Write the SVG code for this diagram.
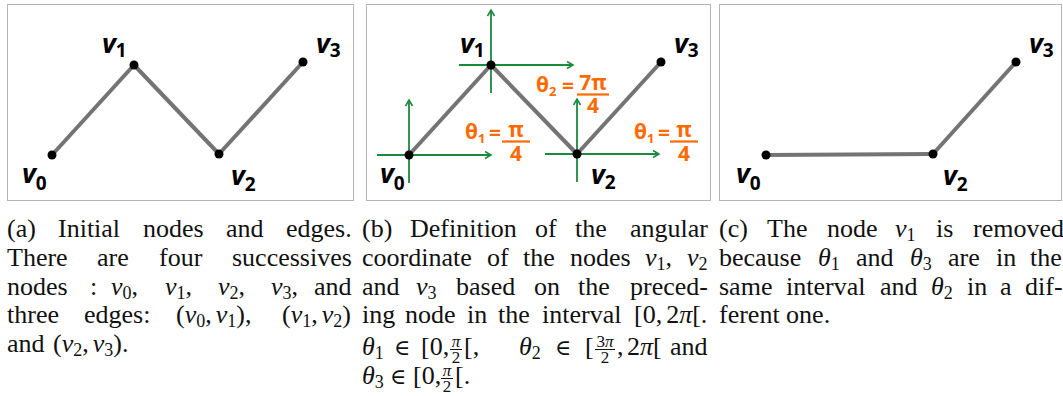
<svg xmlns="http://www.w3.org/2000/svg" width="1063" height="396" viewBox="0 0 1063 396">
<defs>
<style>
.frame{fill:#fff;stroke:#b4b4b4;stroke-width:1}
.edge{stroke:#747474;stroke-width:4;stroke-linecap:round}
.dot{fill:#000}
.lbl{font-family:"Open Sans","Noto Sans",sans-serif;font-weight:700;font-style:italic;font-size:27px;fill:#000}
.lsub{font-style:normal;font-size:19px}
.axis{stroke:#1b8a3b;stroke-width:1.8;fill:none;marker-end:url(#arr)}
.ang{font-family:"Open Sans","Noto Sans",sans-serif;font-weight:700;font-size:21px;fill:#ff6a00}
.asub{font-size:13px}
.bar{stroke:#ff6a00;stroke-width:2.2}
.cap{font-family:"Liberation Serif","Times New Roman",serif;font-size:26px;fill:#111}
.mi{font-style:italic}
.sub{font-size:18px}
.el{font-family:"DejaVu Serif",serif;font-size:22px}
.fr{font-family:"Liberation Serif","Times New Roman",serif;font-size:17px;fill:#111;text-anchor:middle}
.fbar{stroke:#111;stroke-width:1}
</style>
<marker id="arr" markerWidth="10" markerHeight="10" refX="7" refY="4" orient="auto" markerUnits="userSpaceOnUse"><path d="M1,0.5 L7,4 L1,7.5" fill="none" stroke="#1b8a3b" stroke-width="1.6"/></marker>
</defs>
<rect width="1063" height="396" fill="#fff"/>
<g id="frames">
<rect class="frame" x="7.5" y="4.5" width="346" height="196"/>
<rect class="frame" x="366.5" y="4.5" width="344" height="196"/>
<rect class="frame" x="719.5" y="4.5" width="342" height="196"/>
</g>
<g id="axes">
<line class="axis" x1="377" y1="155" x2="491" y2="155"/>
<line class="axis" x1="409" y1="183" x2="409" y2="100"/>
<line class="axis" x1="459" y1="65" x2="573" y2="65"/>
<line class="axis" x1="491" y1="93" x2="491" y2="10"/>
<line class="axis" x1="545" y1="154" x2="659" y2="154"/>
<line class="axis" x1="577" y1="182" x2="577" y2="99"/>
</g>
<g id="connectors">
<line class="edge" x1="52" y1="155" x2="134" y2="65"/>
<line class="edge" x1="134" y1="65" x2="219" y2="154"/>
<line class="edge" x1="219" y1="154" x2="303" y2="62"/>
<line class="edge" x1="409" y1="155" x2="491" y2="65"/>
<line class="edge" x1="491" y1="65" x2="577" y2="154"/>
<line class="edge" x1="577" y1="154" x2="661" y2="62"/>
<line class="edge" x1="766" y1="155" x2="933" y2="154"/>
<line class="edge" x1="933" y1="154" x2="1016" y2="62"/>
</g>
<g id="a-v0"><circle class="dot" cx="52" cy="155" r="4.5"/><text class="lbl" x="22" y="183">v<tspan class="lsub" dy="7">0</tspan></text></g>
<g id="a-v1"><circle class="dot" cx="134" cy="65" r="4.5"/><text class="lbl" x="102" y="53">v<tspan class="lsub" dy="4">1</tspan></text></g>
<g id="a-v2"><circle class="dot" cx="219" cy="154" r="4.5"/><text class="lbl" x="231" y="185">v<tspan class="lsub" dy="6">2</tspan></text></g>
<g id="a-v3"><circle class="dot" cx="303" cy="62" r="4.5"/><text class="lbl" x="316" y="53">v<tspan class="lsub" dy="4">3</tspan></text></g>
<g id="b-v0"><circle class="dot" cx="409" cy="155" r="4.5"/><text class="lbl" x="380" y="183">v<tspan class="lsub" dy="7">0</tspan></text></g>
<g id="b-v1"><circle class="dot" cx="491" cy="65" r="4.5"/><text class="lbl" x="460" y="53">v<tspan class="lsub" dy="4">1</tspan></text></g>
<g id="b-v2"><circle class="dot" cx="577" cy="154" r="4.5"/><text class="lbl" x="591" y="184">v<tspan class="lsub" dy="5">2</tspan></text></g>
<g id="b-v3"><circle class="dot" cx="661" cy="62" r="4.5"/><text class="lbl" x="674" y="53">v<tspan class="lsub" dy="4">3</tspan></text></g>
<g id="c-v0"><circle class="dot" cx="766" cy="155" r="4.5"/><text class="lbl" x="736" y="183">v<tspan class="lsub" dy="7">0</tspan></text></g>
<g id="c-v2"><circle class="dot" cx="933" cy="154" r="4.5"/><text class="lbl" x="943" y="185">v<tspan class="lsub" dy="6">2</tspan></text></g>
<g id="c-v3"><circle class="dot" cx="1016" cy="62" r="4.5"/><text class="lbl" x="1029" y="53">v<tspan class="lsub" dy="4">3</tspan></text></g>
<g id="angles">
<text class="ang" x="465" y="139">θ<tspan class="asub" dy="4">1</tspan></text>
<text class="ang" x="489" y="140">=</text>
<text class="ang" x="516" y="137" text-anchor="middle">π</text>
<line class="bar" x1="502" y1="141.5" x2="530" y2="141.5"/>
<text class="ang" x="516" y="161" text-anchor="middle">4</text>
<text class="ang" x="536" y="92">θ<tspan class="asub" dy="4">2</tspan></text>
<text class="ang" x="562" y="93">=</text>
<text class="ang" x="593" y="90" text-anchor="middle">7π</text>
<line class="bar" x1="577" y1="94.5" x2="609" y2="94.5"/>
<text class="ang" x="593" y="113" text-anchor="middle">4</text>
<text class="ang" x="634" y="139">θ<tspan class="asub" dy="4">1</tspan></text>
<text class="ang" x="658" y="140">=</text>
<text class="ang" x="684" y="137" text-anchor="middle">π</text>
<line class="bar" x1="670" y1="141.5" x2="698" y2="141.5"/>
<text class="ang" x="684" y="161" text-anchor="middle">4</text>
</g>
<g id="caption-a">
<text class="cap" y="237"><tspan x="7">(a)</tspan><tspan x="58">Initial</tspan><tspan x="143">nodes</tspan><tspan x="226">and</tspan><tspan x="286">edges.</tspan></text>
<text class="cap" y="266"><tspan x="7">There</tspan><tspan x="97">are</tspan><tspan x="159">four</tspan><tspan x="232">successives</tspan></text>
<text class="cap" y="295"><tspan x="7">nodes</tspan><tspan x="90">:</tspan><tspan x="111" class="mi">v</tspan><tspan class="sub" dy="4">0</tspan><tspan dy="-4">,</tspan><tspan x="165" class="mi">v</tspan><tspan class="sub" dy="4">1</tspan><tspan dy="-4">,</tspan><tspan x="218" class="mi">v</tspan><tspan class="sub" dy="4">2</tspan><tspan dy="-4">,</tspan><tspan x="271" class="mi">v</tspan><tspan class="sub" dy="4">3</tspan><tspan dy="-4">,</tspan><tspan x="314">and</tspan></text>
<text class="cap" y="323"><tspan x="7">three</tspan><tspan x="84">edges:</tspan><tspan x="176">(</tspan><tspan class="mi">v</tspan><tspan class="sub" dy="4">0</tspan><tspan dy="-4">,</tspan><tspan class="mi" dx="4">v</tspan><tspan class="sub" dy="4">1</tspan><tspan dy="-4">),</tspan><tspan x="282">(</tspan><tspan class="mi">v</tspan><tspan class="sub" dy="4">1</tspan><tspan dy="-4">,</tspan><tspan class="mi" dx="4">v</tspan><tspan class="sub" dy="4">2</tspan><tspan dy="-4">)</tspan></text>
<text class="cap" y="352"><tspan x="7">and</tspan><tspan x="53">(</tspan><tspan class="mi">v</tspan><tspan class="sub" dy="4">2</tspan><tspan dy="-4">,</tspan><tspan class="mi" dx="4">v</tspan><tspan class="sub" dy="4">3</tspan><tspan dy="-4">).</tspan></text>
</g>
<g id="caption-b">
<text class="cap" y="237"><tspan x="362">(b)</tspan><tspan x="410">Definition</tspan><tspan x="535">of</tspan><tspan x="575">the</tspan><tspan x="630">angular</tspan></text>
<text class="cap" y="266"><tspan x="362">coordinate</tspan><tspan x="487">of</tspan><tspan x="523">the</tspan><tspan x="570">nodes</tspan><tspan x="645" class="mi">v</tspan><tspan class="sub" dy="4">1</tspan><tspan dy="-4">,</tspan><tspan x="687" class="mi">v</tspan><tspan class="sub" dy="4">2</tspan></text>
<text class="cap" y="295"><tspan x="362">and</tspan><tspan x="416" class="mi">v</tspan><tspan class="sub" dy="4">3</tspan><tspan x="456" dy="-4">based</tspan><tspan x="534">on</tspan><tspan x="578">the</tspan><tspan x="630">preced-</tspan></text>
<text class="cap" y="323"><tspan x="362">ing</tspan><tspan x="405">node</tspan><tspan x="467">in</tspan><tspan x="498">the</tspan><tspan x="542">interval</tspan><tspan x="634">[0,</tspan><tspan dx="4">2</tspan><tspan class="mi">π</tspan><tspan>[.</tspan></text>
<text class="cap" y="355"><tspan x="362" class="mi">θ</tspan><tspan class="sub" dy="4">1</tspan><tspan x="394" dy="-4" class="el">∈</tspan><tspan x="421">[0,</tspan><tspan x="464">[,</tspan><tspan x="519" class="mi">θ</tspan><tspan class="sub" dy="4">2</tspan><tspan x="555" dy="-4" class="el">∈</tspan><tspan x="585">[</tspan><tspan x="617">,</tspan><tspan x="627">2</tspan><tspan class="mi">π</tspan><tspan>[</tspan><tspan x="670">and</tspan></text>
<text class="fr" x="456" y="347"><tspan class="mi">π</tspan></text>
<line class="fbar" x1="450" y1="349.5" x2="462" y2="349.5"/>
<text class="fr" x="456" y="363">2</text>
<text class="fr" x="605" y="347">3<tspan class="mi">π</tspan></text>
<line class="fbar" x1="595" y1="349.5" x2="615" y2="349.5"/>
<text class="fr" x="605" y="363">2</text>
<text class="cap" y="384"><tspan x="362" class="mi">θ</tspan><tspan class="sub" dy="4">3</tspan><tspan x="390" dy="-4" class="el">∈</tspan><tspan x="413">[0,</tspan><tspan x="455">[.</tspan></text>
<text class="fr" x="447" y="376"><tspan class="mi">π</tspan></text>
<line class="fbar" x1="441" y1="378.5" x2="453" y2="378.5"/>
<text class="fr" x="447" y="392">2</text>
</g>
<g id="caption-c">
<text class="cap" y="237"><tspan x="719">(c)</tspan><tspan x="767">The</tspan><tspan x="827">node</tspan><tspan x="895" class="mi">v</tspan><tspan class="sub" dy="4">1</tspan><tspan x="936" dy="-4">is</tspan><tspan x="973">removed</tspan></text>
<text class="cap" y="266"><tspan x="719">because</tspan><tspan x="818" class="mi">θ</tspan><tspan class="sub" dy="4">1</tspan><tspan x="856" dy="-4">and</tspan><tspan x="910" class="mi">θ</tspan><tspan class="sub" dy="4">3</tspan><tspan x="948" dy="-4">are</tspan><tspan x="996">in</tspan><tspan x="1030">the</tspan></text>
<text class="cap" y="295"><tspan x="719">same</tspan><tspan x="786">interval</tspan><tspan x="880">and</tspan><tspan x="931" class="mi">θ</tspan><tspan class="sub" dy="4">2</tspan><tspan x="967" dy="-4">in</tspan><tspan x="1000">a</tspan><tspan x="1025">dif-</tspan></text>
<text class="cap" y="323"><tspan x="719">ferent one.</tspan></text>
</g>
</svg>
